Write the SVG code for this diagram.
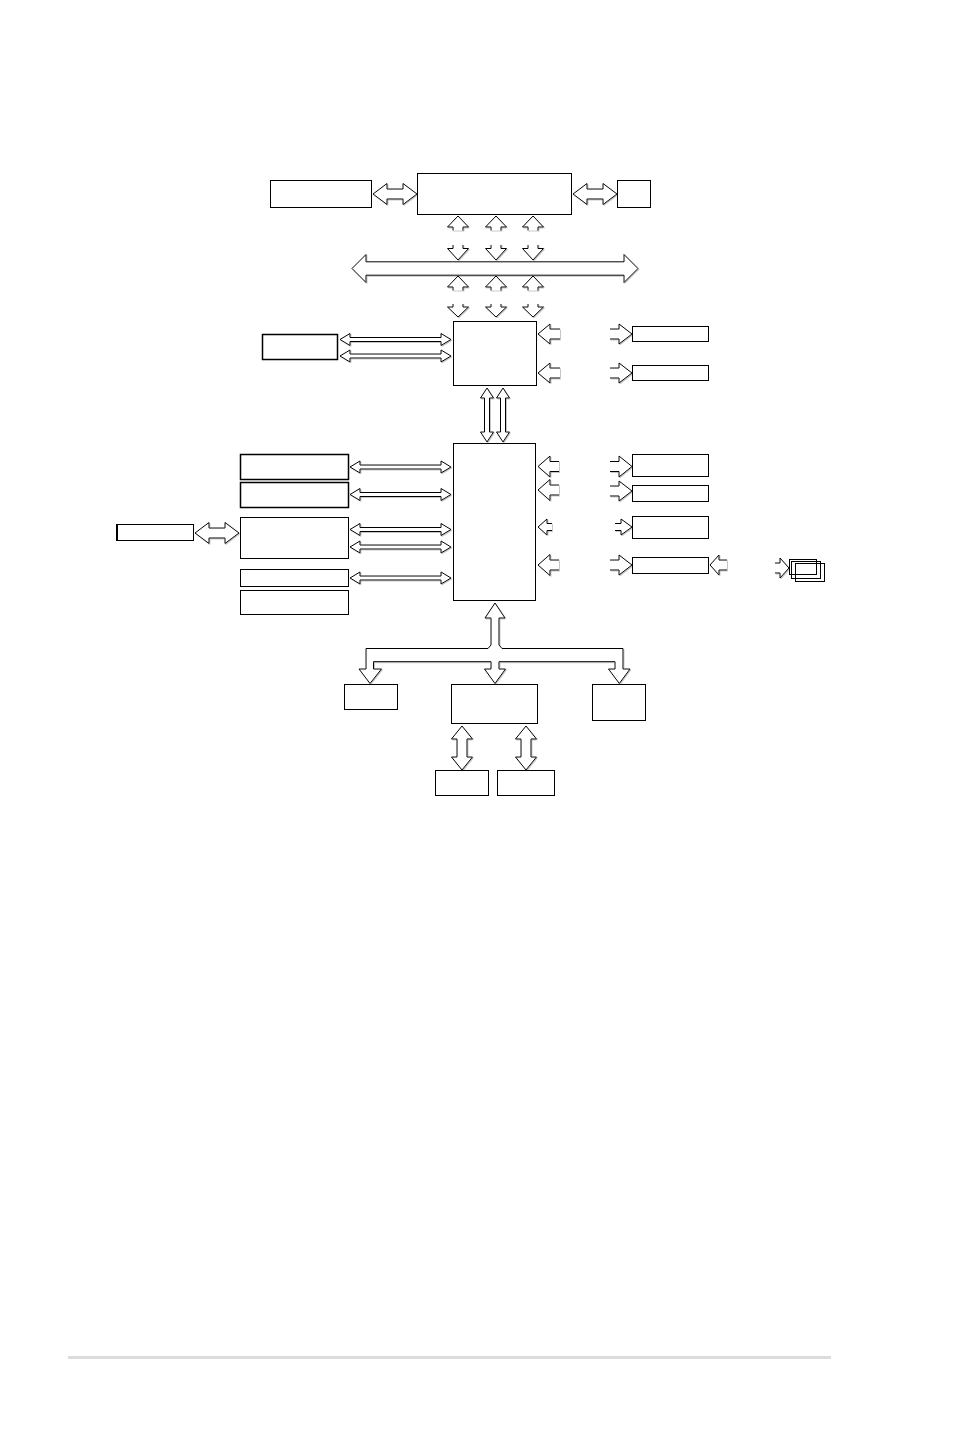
<svg xmlns="http://www.w3.org/2000/svg" width="954" height="1437" viewBox="0 0 954 1437">
<style>
rect.b{fill:#fff;stroke:#000;stroke-width:1}
rect.t{fill:#fff;stroke:#000;stroke-width:1.5}
rect.o{fill:none;stroke:#000;stroke-width:1}
#connectors path{fill:#fff;stroke:#000;stroke-width:1;stroke-linejoin:miter}
</style>
<defs>
<filter id="sh" x="-5%" y="-5%" width="110%" height="110%">
<feDropShadow dx="0.8" dy="0.8" stdDeviation="0" flood-color="#888" flood-opacity="0.6"/>
</filter>
</defs>
<rect width="954" height="1437" fill="#fff"/>
<g id="connectors" filter="url(#sh)">
<path d="M373,194 L387,183.5 L387,189 L403,189 L403,183.5 L417,194 L403,204.5 L403,199 L387,199 L387,204.5 Z"/>
<path d="M573,194 L587,183.5 L587,189 L603,189 L603,183.5 L617,194 L603,204.5 L603,199 L587,199 L587,204.5 Z"/>
<path d="M352,268.5 L366,254.5 L366,261.8 L624,261.8 L624,254.5 L638,268.5 L624,282.5 L624,275.2 L366,275.2 L366,282.5 Z"/>
<path d="M453,230.5 L453,227 L447.5,227 L458,216 L468.5,227 L463,227 L463,230.5"/>
<path d="M491,230.5 L491,227 L485.5,227 L496,216 L506.5,227 L501,227 L501,230.5"/>
<path d="M528,230.5 L528,227 L522.5,227 L533,216 L543.5,227 L538,227 L538,230.5"/>
<path d="M453,245 L453,248.5 L447.5,248.5 L458,260 L468.5,248.5 L463,248.5 L463,245"/>
<path d="M491,245 L491,248.5 L485.5,248.5 L496,260 L506.5,248.5 L501,248.5 L501,245"/>
<path d="M528,245 L528,248.5 L522.5,248.5 L533,260 L543.5,248.5 L538,248.5 L538,245"/>
<path d="M453,290.5 L453,287 L447.5,287 L458,276 L468.5,287 L463,287 L463,290.5"/>
<path d="M491,290.5 L491,287 L485.5,287 L496,276 L506.5,287 L501,287 L501,290.5"/>
<path d="M528,290.5 L528,287 L522.5,287 L533,276 L543.5,287 L538,287 L538,290.5"/>
<path d="M453,304 L453,307 L447.5,307 L458,317 L468.5,307 L463,307 L463,304"/>
<path d="M491,304 L491,307 L485.5,307 L496,317 L506.5,307 L501,307 L501,304"/>
<path d="M528,304 L528,307 L522.5,307 L533,317 L543.5,307 L538,307 L538,304"/>
<path d="M340,339.5 L350,333.5 L350,337.5 L441,337.5 L441,333.5 L451,339.5 L441,345.5 L441,341.5 L350,341.5 L350,345.5 Z"/>
<path d="M340,356 L350,350 L350,354 L441,354 L441,350 L451,356 L441,362 L441,358 L350,358 L350,362 Z"/>
<path d="M560,329 L550,329 L550,324 L538,334 L550,344 L550,339 L560,339"/>
<path d="M560,368 L550,368 L550,363 L538,373 L550,383 L550,378 L560,378"/>
<path d="M610,329 L619,329 L619,324 L632,334 L619,344 L619,339 L610,339"/>
<path d="M610,368 L619,368 L619,363 L632,373 L619,383 L619,378 L610,378"/>
<path d="M487,388 L493.5,398 L489.5,398 L489.5,432 L493.5,432 L487,442 L480.5,432 L484.5,432 L484.5,398 L480.5,398 Z"/>
<path d="M503,388 L509.5,398 L505.5,398 L505.5,432 L509.5,432 L503,442 L496.5,432 L500.5,432 L500.5,398 L496.5,398 Z"/>
<path d="M350,467 L360,461 L360,465 L441,465 L441,461 L451,467 L441,473 L441,469 L360,469 L360,473 Z"/>
<path d="M350,494.5 L360,488.5 L360,492.5 L441,492.5 L441,488.5 L451,494.5 L441,500.5 L441,496.5 L360,496.5 L360,500.5 Z"/>
<path d="M350,529.5 L360,523.5 L360,527.5 L441,527.5 L441,523.5 L451,529.5 L441,535.5 L441,531.5 L360,531.5 L360,535.5 Z"/>
<path d="M350,547 L360,541 L360,545 L441,545 L441,541 L451,547 L441,553 L441,549 L360,549 L360,553 Z"/>
<path d="M350,578 L360,572 L360,576 L441,576 L441,572 L451,578 L441,584 L441,580 L360,580 L360,584 Z"/>
<path d="M195,533 L209,522.5 L209,528 L225,528 L225,522.5 L239,533 L225,543.5 L225,538 L209,538 L209,543.5 Z"/>
<path d="M559,461.5 L550,461.5 L550,456 L538,466.5 L550,477 L550,471.5 L559,471.5"/>
<path d="M559,485 L550,485 L550,479.5 L538,490 L550,500.5 L550,495 L559,495"/>
<path d="M552,523.5 L547,523.5 L547,519 L538,527 L547,535 L547,530.5 L552,530.5"/>
<path d="M559,560 L550,560 L550,554.5 L538,565 L550,575.5 L550,570 L559,570"/>
<path d="M610,461.5 L619,461.5 L619,456 L632,466.5 L619,477 L619,471.5 L610,471.5"/>
<path d="M610,486 L619,486 L619,481 L632,491 L619,501 L619,496 L610,496"/>
<path d="M615,523.5 L621,523.5 L621,519 L632,527 L621,535 L621,530.5 L615,530.5"/>
<path d="M610,560 L619,560 L619,555 L632,565 L619,575 L619,570 L610,570"/>
<path d="M727,560 L719,560 L719,555 L710,565 L719,575 L719,570 L727,570"/>
<path d="M775,563 L780,563 L780,558 L789,568 L780,578 L780,573 L775,573"/>
<path d="M495,603 L505,618 L499,618 L499,645 L502,648.5 L623,648.5 L623,669 L630,669 L619.3,683.5 L608.5,669 L615,669 L615,661.7 L499,661.7 L499,669 L505.5,669 L495,683.5 L484.5,669 L491,669 L491,661.7 L373.5,661.7 L373.5,669 L381.5,669 L370,683.5 L359,669 L366,669 L366,648.5 L488,648.5 L491,645 L491,618 L485,618 Z"/>
<path d="M462,726 L472.5,739 L467,739 L467,757 L472.5,757 L462,770 L451.5,757 L457,757 L457,739 L451.5,739 Z"/>
<path d="M526,726 L536.5,739 L531,739 L531,757 L536.5,757 L526,770 L515.5,757 L521,757 L521,739 L515.5,739 Z"/>
</g>
<g id="n-mem-left"><rect class="b" x="270.5" y="180.5" width="101" height="27"/></g>
<g id="n-cpu"><rect class="b" x="417.5" y="173.5" width="154" height="41"/></g>
<g id="n-cpu-right"><rect class="b" x="617.5" y="180.5" width="33" height="27"/></g>
<g id="n-nb"><rect class="b" x="453.5" y="321.5" width="83" height="64"/></g>
<g id="n-nb-left"><rect class="t" x="262.5" y="334.5" width="75" height="25"/></g>
<g id="n-nb-r1"><rect class="b" x="632.5" y="326.5" width="76" height="15"/></g>
<g id="n-nb-r2"><rect class="b" x="632.5" y="365.5" width="76" height="15"/></g>
<g id="n-sb"><rect class="b" x="453.5" y="443.5" width="82" height="157"/></g>
<g id="n-sb-l1"><rect class="t" x="240.5" y="454.5" width="108" height="25"/></g>
<g id="n-sb-l2"><rect class="t" x="240.5" y="482.5" width="108" height="25"/></g>
<g id="n-sb-l3"><rect class="b" x="240.5" y="517.5" width="108" height="41"/></g>
<g id="n-sb-l4"><rect class="b" x="240.5" y="569.5" width="108" height="17"/></g>
<g id="n-sb-l5"><rect class="b" x="240.5" y="590.5" width="108" height="24"/></g>
<g id="n-far-left"><rect class="b" x="116.5" y="524.5" width="77" height="16"/><line x1="117" y1="524" x2="117" y2="541" stroke="#000" stroke-width="2"/></g>
<g id="n-sb-r1"><rect class="b" x="632.5" y="454.5" width="76" height="22"/></g>
<g id="n-sb-r2"><rect class="b" x="632.5" y="485.5" width="76" height="16"/></g>
<g id="n-sb-r3"><rect class="b" x="632.5" y="516.5" width="76" height="22"/></g>
<g id="n-sb-r4"><rect class="b" x="632.5" y="557.5" width="76" height="16"/></g>
<g id="n-stack">
<rect class="o" x="789.5" y="559.5" width="27" height="15"/>
<rect class="o" x="791.5" y="561.5" width="29" height="17"/>
<rect class="o" x="795.5" y="563.5" width="29" height="18"/>
</g>
<g id="n-bot-left"><rect class="b" x="344.5" y="684.5" width="53" height="25"/></g>
<g id="n-bot-mid"><rect class="b" x="451.5" y="684.5" width="86" height="39"/></g>
<g id="n-bot-right"><rect class="b" x="592.5" y="684.5" width="53" height="36"/></g>
<g id="n-sub-1"><rect class="b" x="435.5" y="770.5" width="53" height="25"/></g>
<g id="n-sub-2"><rect class="b" x="497.5" y="770.5" width="57" height="25"/></g>
<rect x="68" y="1356" width="763" height="3" fill="#dcdcdc"/>
</svg>
